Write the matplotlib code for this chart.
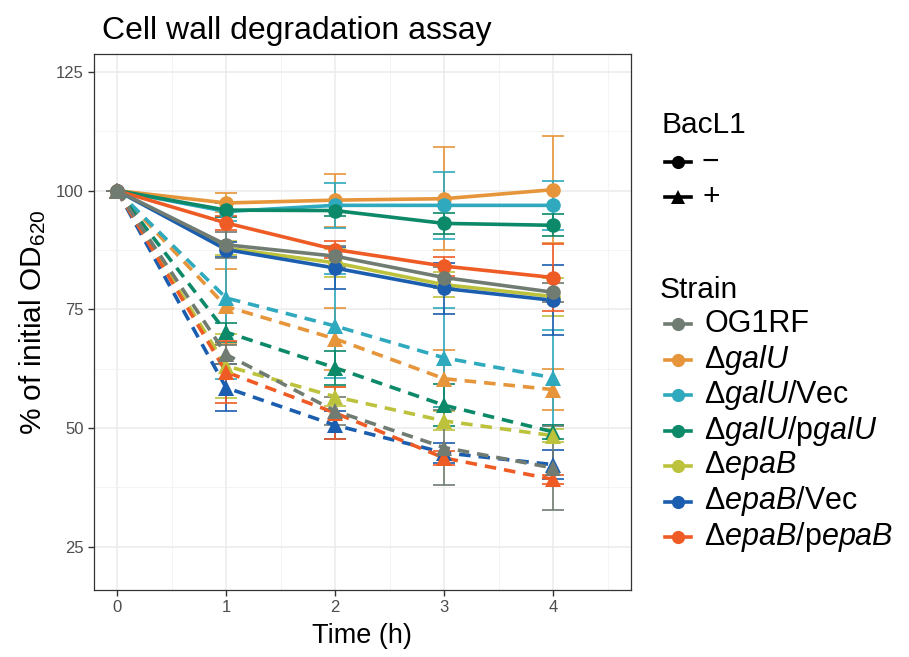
import matplotlib
matplotlib.use('Agg')
import matplotlib.pyplot as plt
from matplotlib.lines import Line2D

plt.rcParams['font.family'] = ['Liberation Sans', 'DejaVu Sans']
plt.rcParams['mathtext.fontset'] = 'custom'
plt.rcParams['mathtext.rm'] = 'Liberation Sans'
plt.rcParams['mathtext.it'] = 'Liberation Sans:italic'

# time points (h)
times = [0, 1, 2, 3, 4]

strains = ['OG1RF', 'galU', 'galU/Vec', 'galU/pgalU', 'epaB', 'epaB/Vec', 'epaB/pepaB']
labels = ['OG1RF', r'Δ$\mathit{galU}$', r'Δ$\mathit{galU/}$Vec', r'Δ$\mathit{galU/}$p$\mathit{galU}$',
          r'Δ$\mathit{epaB}$', r'Δ$\mathit{epaB/}$Vec', r'Δ$\mathit{epaB/}$p$\mathit{epaB}$']
colors = ['#707C72', '#E6953B', '#2EA9BD', '#0B8968', '#BDC23D', '#1B5DAE', '#EF5B25']

# BacL1 - (solid, circles)
mean_minus = [
    [100, 88.6, 86.2, 81.7, 78.6],
    [100, 97.4, 98.0, 98.3, 100.2],
    [100, 95.6, 96.9, 96.9, 96.9],
    [100, 95.9, 95.8, 93.1, 92.7],
    [100, 87.9, 84.8, 80.2, 77.7],
    [100, 87.6, 83.7, 79.4, 76.9],
    [100, 93.2, 87.6, 84.1, 81.7],
]
sd_minus = [
    [0, 2.7, 2.2, 2.2, 2.0],
    [0, 2.0, 5.6, 10.8, 11.3],
    [0, 2.0, 4.7, 7.1, 5.1],
    [0, 1.5, 1.2, 2.2, 2.3],
    [0, 1.5, 2.9, 2.6, 4.0],
    [0, 1.5, 4.4, 5.4, 7.4],
    [0, 1.5, 1.8, 2.0, 7.0],
]

# BacL1 + (dashed, triangles)
mean_plus = [
    [100, 65.5, 53.6, 45.9, 41.6],
    [100, 75.6, 68.8, 60.4, 58.1],
    [100, 77.4, 71.5, 64.8, 60.6],
    [100, 70.2, 62.7, 54.8, 49.2],
    [100, 63.1, 56.6, 51.5, 48.4],
    [100, 58.5, 50.6, 44.8, 42.3],
    [100, 61.8, 53.2, 43.7, 39.2],
]
sd_plus = [
    [0, 2.0, 3.0, 7.9, 8.8],
    [0, 7.9, 6.5, 6.0, 4.4],
    [0, 17.0, 11.0, 10.4, 10.0],
    [0, 2.0, 3.6, 4.4, 1.5],
    [0, 6.8, 2.0, 2.0, 1.3],
    [0, 5.0, 3.0, 2.1, 3.0],
    [0, 6.5, 5.5, 1.5, 1.0],
]

fig = plt.figure(figsize=(9.09, 6.57), dpi=100)
ax = fig.add_axes([0.1029, 0.102, 0.5912, 0.816])

order = [1, 2, 3, 4, 5, 6, 0]  # gray drawn last
for i in order:
    c = colors[i]
    for means, sds, ls, mk, ms in [(mean_minus, sd_minus, '-', 'o', 10.5),
                                   (mean_plus, sd_plus, (0, (3.2, 2.2)), '^', 11.5)]:
        ax.errorbar(times, means[i], yerr=sds[i], fmt='none', ecolor=c,
                    elinewidth=1.2, capsize=8, capthick=1.2, zorder=2)
        ax.plot(times, means[i], color=c, lw=2.6, linestyle=ls, zorder=3)
        ax.plot(times, means[i], color=c, linestyle='none', marker=mk,
                markersize=ms, markeredgewidth=0, zorder=4)

ax.set_xlim(-0.216, 4.714)
ax.set_ylim(15.9, 128.8)
ax.set_xticks([0, 1, 2, 3, 4])
ax.set_yticks([25, 50, 75, 100, 125])
ax.set_xticks([0.5, 1.5, 2.5, 3.5, 4.5], minor=True)
ax.set_yticks([37.5, 62.5, 87.5, 112.5], minor=True)
ax.grid(True, which='major', color='#EBEBEB', lw=1.1, zorder=0)
ax.grid(True, which='minor', color='#F2F2F2', lw=0.6, zorder=0)
ax.set_axisbelow(True)
ax.tick_params(which='major', length=4, width=1, color='#333333',
               labelsize=12, labelcolor='#4D4D4D', pad=3)
ax.tick_params(which='minor', length=0)
for s in ax.spines.values():
    s.set_color('#333333')
    s.set_linewidth(0.9)

ax.set_xlabel('Time (h)', fontsize=19.5, labelpad=6)
ax.set_ylabel(r'% of initial OD$_{620}$', fontsize=21.5, labelpad=6)
fig.text(102 / 909, 1 - 31 / 657, 'Cell wall degradation assay', fontsize=23,
         ha='left', va='center')

# legends drawn by hand
def fx(px):
    return px / 909

def fy(py):
    return 1 - py / 657

fig.text(fx(662), fy(125), 'BacL1', fontsize=21.5, ha='left', va='center')
for py, mk, lab in [(162, 'o', '−'), (197, '^', '+')]:
    fig.add_artist(Line2D([fx(665), fx(691)], [fy(py), fy(py)], color='black', lw=2.6,
                          transform=fig.transFigure))
    fig.add_artist(Line2D([fx(678)], [fy(py)], color='black', marker=mk, markersize=9.5,
                          markeredgewidth=0, transform=fig.transFigure))
    fig.text(fx(702), fy(py), lab, fontsize=21.5, ha='left', va='center')

fig.text(fx(660), fy(290), 'Strain', fontsize=21.5, ha='left', va='center')
for k in range(len(strains)):
    py = 324 + 35.5 * k
    fig.add_artist(Line2D([fx(665), fx(691)], [fy(py), fy(py)], color=colors[k], lw=2.6,
                          transform=fig.transFigure))
    fig.add_artist(Line2D([fx(678)], [fy(py)], color=colors[k], marker='o', markersize=9.5,
                          markeredgewidth=0, transform=fig.transFigure))
    fig.text(fx(704), fy(py), labels[k], fontsize=22, ha='left', va='center')

fig.savefig('out.png', dpi=100)
